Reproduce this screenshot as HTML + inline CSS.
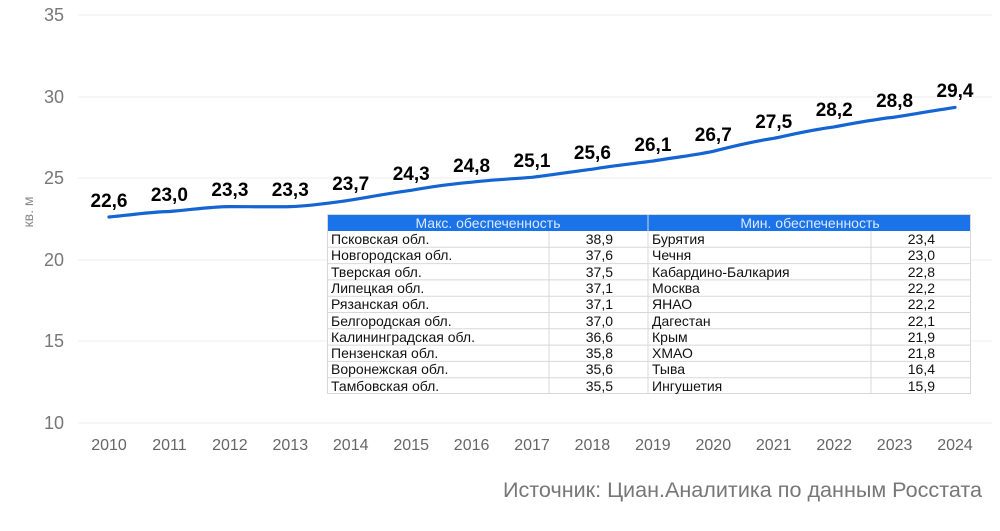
<!DOCTYPE html>
<html><head><meta charset="utf-8"><style>
body{margin:0;background:#fff;}
svg{display:block;font-family:"Liberation Sans",sans-serif;}
</style></head><body>
<svg width="1000" height="531" viewBox="0 0 1000 531">
<g stroke="#eeeeee" stroke-width="1">
<line x1="78" y1="15" x2="992" y2="15"/><line x1="78" y1="97" x2="992" y2="97"/><line x1="78" y1="178" x2="992" y2="178"/><line x1="78" y1="260" x2="992" y2="260"/><line x1="78" y1="341" x2="992" y2="341"/><line x1="78" y1="423" x2="992" y2="423"/>
</g>
<g fill="#777" font-size="18" text-anchor="end">
<text x="64" y="21">35</text><text x="64" y="103">30</text><text x="64" y="184">25</text><text x="64" y="266">20</text><text x="64" y="347">15</text><text x="64" y="429">10</text>
</g>
<text transform="translate(33,212) rotate(-90)" fill="#888" font-size="14" text-anchor="middle">кв. м</text>
<g fill="#666" font-size="16" text-anchor="middle">
<text x="109" y="450">2010</text><text x="169.4" y="450">2011</text><text x="229.9" y="450">2012</text><text x="290.3" y="450">2013</text><text x="350.7" y="450">2014</text><text x="411.2" y="450">2015</text><text x="471.6" y="450">2016</text><text x="532" y="450">2017</text><text x="592.4" y="450">2018</text><text x="652.9" y="450">2019</text><text x="713.3" y="450">2020</text><text x="773.7" y="450">2021</text><text x="834.2" y="450">2022</text><text x="894.6" y="450">2023</text><text x="955" y="450">2024</text>
</g>
<path d="M109,217 C140,214 150,212 169.4,211.5 C190,210 210,206.6 229.9,206.6 C250,206.6 270,207 290.3,206.6 C310,206 330,203 350.7,200.1 C370,197 390,193 411.2,190.3 C430,187 450,184 471.6,182.2 C490,180 510,179 532,177.3 C550,175 570,172 592.4,169.2 C610,166 630,164 652.9,161.1 C670,158 690,156 713.3,151.3 C730,147 750,142 773.7,138.3 C790,135 810,130 834.2,126.9 C850,124 870,120 894.6,117.1 C910,115 930,111 955,107.4" fill="none" stroke="#1464d2" stroke-width="3.2" stroke-linecap="round"/>
<g fill="#000" font-size="19" font-weight="bold" text-anchor="middle">
<text x="109" y="207">22,6</text><text x="169.4" y="201">23,0</text><text x="229.9" y="196">23,3</text><text x="290.3" y="196">23,3</text><text x="350.7" y="190">23,7</text><text x="411.2" y="180">24,3</text><text x="471.6" y="172">24,8</text><text x="532" y="167">25,1</text><text x="592.4" y="159">25,6</text><text x="652.9" y="151">26,1</text><text x="713.3" y="141">26,7</text><text x="773.7" y="128">27,5</text><text x="834.2" y="116">28,2</text><text x="894.6" y="107">28,8</text><text x="955" y="97">29,4</text>
</g>
<rect x="327" y="214" width="644" height="180" fill="#fff"/>
<rect x="327" y="214" width="644" height="17" fill="#1a73e8"/>
<g fill="#dce9ff" font-size="14" text-anchor="middle">
<text x="488" y="228">Макс. обеспеченность</text><text x="810" y="228">Мин. обеспеченность</text>
</g>
<g stroke="#d8d8d8" stroke-width="1" fill="none">
<rect x="327.5" y="214.5" width="643" height="179"/>
<line x1="648" y1="214" x2="648" y2="394"/><line x1="549" y1="231" x2="549" y2="394"/><line x1="871" y1="231" x2="871" y2="394"/>
<line x1="327" y1="247.3" x2="971" y2="247.3"/><line x1="327" y1="263.6" x2="971" y2="263.6"/><line x1="327" y1="279.9" x2="971" y2="279.9"/><line x1="327" y1="296.2" x2="971" y2="296.2"/><line x1="327" y1="312.5" x2="971" y2="312.5"/><line x1="327" y1="328.8" x2="971" y2="328.8"/><line x1="327" y1="345.1" x2="971" y2="345.1"/><line x1="327" y1="361.4" x2="971" y2="361.4"/><line x1="327" y1="377.7" x2="971" y2="377.7"/>
</g>
<g fill="#111" font-size="14">
<text x="331" y="244">Псковская обл.</text><text x="331" y="260">Новгородская обл.</text><text x="331" y="277">Тверская обл.</text><text x="331" y="293">Липецкая обл.</text><text x="331" y="309">Рязанская обл.</text><text x="331" y="326">Белгородская обл.</text><text x="331" y="342">Калининградская обл.</text><text x="331" y="358">Пензенская обл.</text><text x="331" y="374">Воронежская обл.</text><text x="331" y="391">Тамбовская обл.</text>
<text x="652" y="244">Бурятия</text><text x="652" y="260">Чечня</text><text x="652" y="277">Кабардино-Балкария</text><text x="652" y="293">Москва</text><text x="652" y="309">ЯНАО</text><text x="652" y="326">Дагестан</text><text x="652" y="342">Крым</text><text x="652" y="358">ХМАО</text><text x="652" y="374">Тыва</text><text x="652" y="391">Ингушетия</text>
</g>
<g fill="#111" font-size="14" text-anchor="end">
<text x="613" y="244">38,9</text><text x="613" y="260">37,6</text><text x="613" y="277">37,5</text><text x="613" y="293">37,1</text><text x="613" y="309">37,1</text><text x="613" y="326">37,0</text><text x="613" y="342">36,6</text><text x="613" y="358">35,8</text><text x="613" y="374">35,6</text><text x="613" y="391">35,5</text>
<text x="935" y="244">23,4</text><text x="935" y="260">23,0</text><text x="935" y="277">22,8</text><text x="935" y="293">22,2</text><text x="935" y="309">22,2</text><text x="935" y="326">22,1</text><text x="935" y="342">21,9</text><text x="935" y="358">21,8</text><text x="935" y="374">16,4</text><text x="935" y="391">15,9</text>
</g>
<text x="503" y="497" fill="#777" font-size="21" textLength="479" lengthAdjust="spacingAndGlyphs">Источник: Циан.Аналитика по данным Росстата</text>
</svg>
</body></html>
